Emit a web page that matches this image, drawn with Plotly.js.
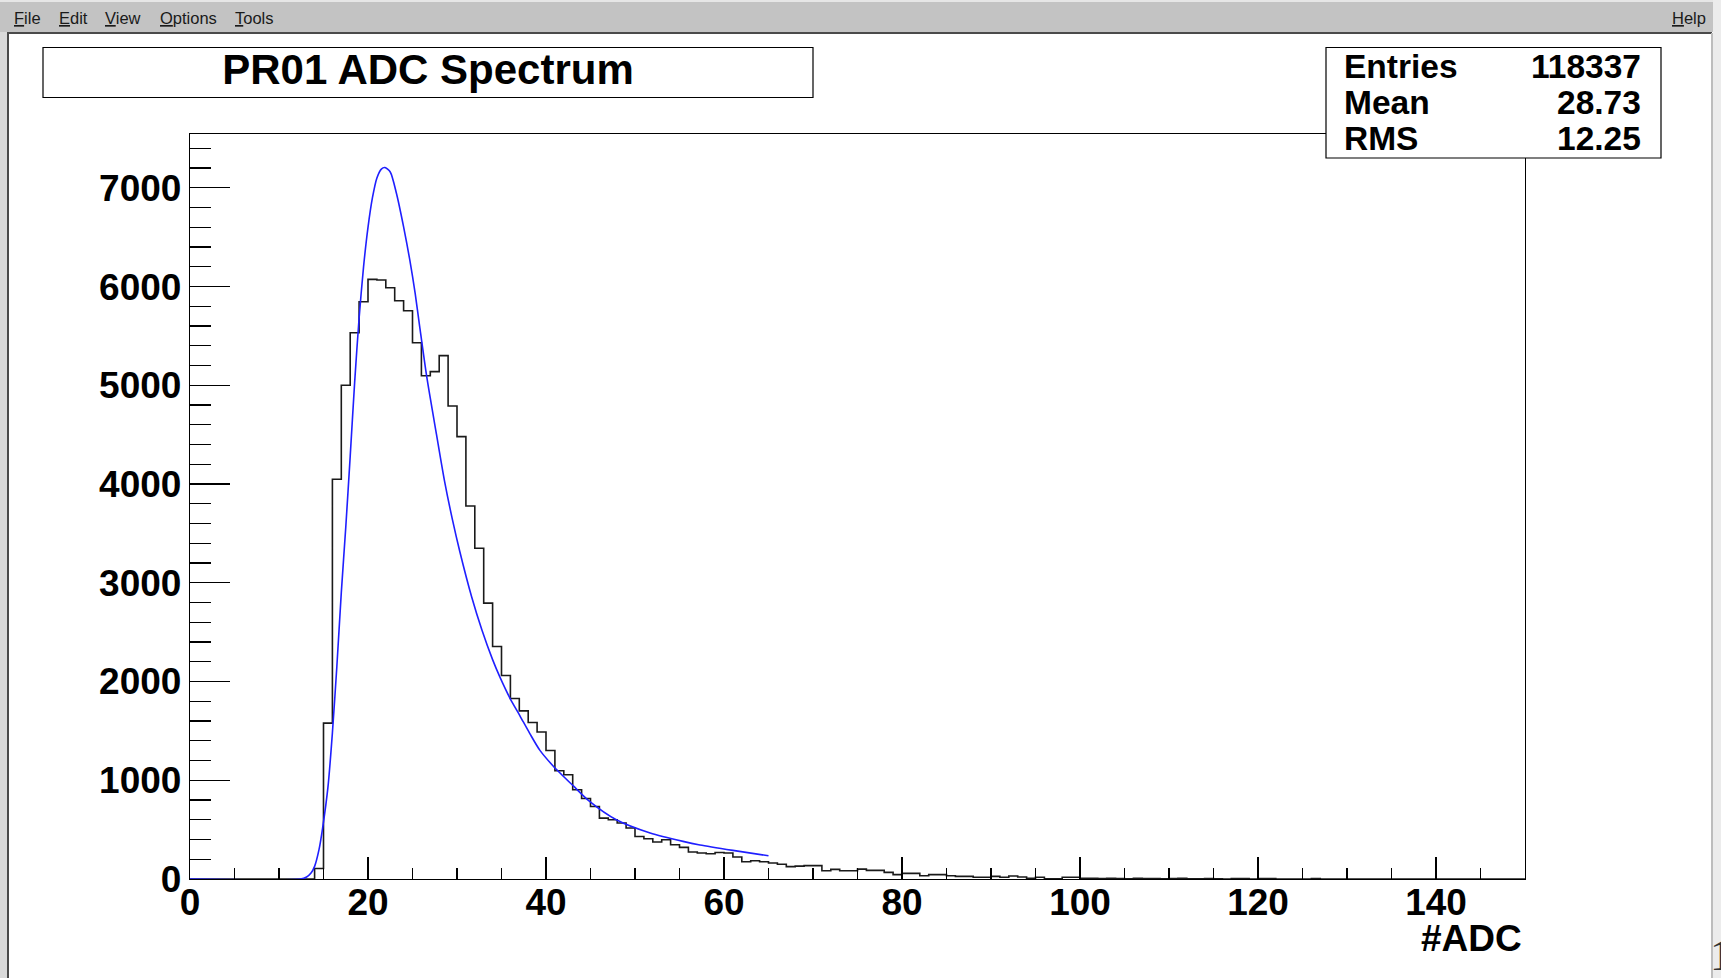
<!DOCTYPE html>
<html>
<head>
<meta charset="utf-8">
<script src="https://cdn.plot.ly/plotly-3.0.1.min.js"></script>
<style>
html,body{margin:0;padding:0;background:#ffffff;overflow:hidden;}
#chart{width:1721px;height:978px;}
</style>
</head>
<body>
<div id="chart"></div>
<script>
// ---------------- data ----------------
const chartTitle = "PR01 ADC Spectrum";
const xAxisTitle = "#ADC";
const statLabels = ["Entries", "Mean", "RMS"];
const statValues = ["118337", "28.73", "12.25"];
const menuItems = ["File", "Edit", "View", "Options", "Tools"];
const helpItem = "Help";

// histogram: 150 bins of width 1 from 0 to 150 (value of bin i covers [i, i+1])
const binWidth = 1;
const adcCounts = [
  0,0,0,0,0,0,0,0,0,0,            // 0-9
  0,0,0,0,107,1579,4049,5000,5532,5846, // 10-19
  6073,6066,5988,5856,5755,5431,5097,5138,5300,4790, // 20-29
  4480,3778,3350,2794,2354,2061,1828,1703,1585,1488, // 30-39
  1302,1096,1056,904,816,735,617,600,567,516,        // 40-49
  431,408,374,398,347,320,273,263,256,269,           // 50-59
  263,223,175,185,175,162,150,125,130,135,           // 60-69
  135,84,97,84,84,100,87,87,67,44,                   // 70-79
  57,57,33,44,44,33,27,27,17,17,                     // 80-89
  27,17,30,20,6,17,3,3,17,17,                        // 90-99
  8,6,4,7,5,3,6,4,5,3,                               // 100-109
  4,6,3,2,4,3,0,5,5,0,                               // 110-119
  5,5,0,0,0,0,5,0,0,0,                               // 120-129
  0,0,0,0,0,0,0,0,0,0,                               // 130-139
  0,0,0,0,0,0,0,0,0,0                                // 140-149
];

// fitted curve (blue)
const fitX = [0, 12.4, 13.1, 13.6, 14.0, 14.5, 14.9, 15.5, 16.0, 16.5, 17.0, 17.5, 18.0, 18.5, 19.0, 19.5, 20.0, 20.5, 21.0, 21.5, 21.9, 22.5, 23.2, 24.0, 24.7, 25.3, 25.8, 26.6, 27.7, 28.6, 29.5, 30.3, 31.65, 32.8, 34.0, 34.8, 35.96, 37.1, 38.2, 39.3, 40.8, 43.1, 44.9, 47.9, 51.7, 55.4, 57.3, 61, 65];
const fitY = [0, 0, 20, 60, 128, 300, 516, 930, 1480, 2152, 2900, 3560, 4280, 5030, 5680, 6200, 6600, 6900, 7100, 7190, 7205, 7160, 6943, 6605, 6268, 5931, 5600, 5087, 4500, 4030, 3634, 3322, 2856, 2522, 2222, 2050, 1830, 1648, 1470, 1305, 1145, 940, 786, 600, 466, 381, 345, 290, 235];

const xRange = [0, 150];
const yRange = [0, 7545];

// ---------------- layout helpers (pixel -> paper) ----------------
const W = 1721, H = 978;
const L = 190, R = 1525, T = 134, B = 879;
const PX = x => (x - L) / (R - L);
const PY = y => (B - y) / (B - T);

// histogram outline as step line
const edges = [];
const stepY = [];
for (let i = 0; i < adcCounts.length; i++) { edges.push(xRange[0] + i * binWidth); stepY.push(adcCounts[i]); }
edges.push(xRange[0] + adcCounts.length * binWidth);
stepY.push(adcCounts[adcCounts.length - 1]);

const traces = [
  {
    x: edges, y: stepY, type: 'scatter', mode: 'lines',
    line: {shape: 'hv', color: '#1a1a1a', width: 1.6},
    hoverinfo: 'skip', showlegend: false, cliponaxis: true
  },
  {
    x: fitX, y: fitY, type: 'scatter', mode: 'lines',
    line: {shape: 'spline', smoothing: 0.7, color: '#1f1fff', width: 1.6},
    hoverinfo: 'skip', showlegend: false
  }
];

const FONT = 'Liberation Sans, Arial, Helvetica, sans-serif';
const shapes = [];
const annotations = [];

// window chrome
shapes.push({type:'rect', xref:'paper', yref:'paper', x0:PX(0), x1:PX(W), y0:PY(0), y1:PY(32), fillcolor:'#c3c3c3', line:{width:0}, layer:'above'});
shapes.push({type:'rect', xref:'paper', yref:'paper', x0:PX(0), x1:PX(W), y0:PY(0), y1:PY(2), fillcolor:'#e6e6e6', line:{width:0}, layer:'above'});
shapes.push({type:'rect', xref:'paper', yref:'paper', x0:PX(0), x1:PX(7), y0:PY(32), y1:PY(H), fillcolor:'#d9d9d9', line:{width:0}, layer:'above'});
shapes.push({type:'rect', xref:'paper', yref:'paper', x0:PX(1713), x1:PX(W), y0:PY(0), y1:PY(H), fillcolor:'#ececec', line:{width:0}, layer:'above'});
shapes.push({type:'line', xref:'paper', yref:'paper', x0:PX(7), x1:PX(1712), y0:PY(33), y1:PY(33), line:{color:'#4a4a4a', width:2}, layer:'above'});
shapes.push({type:'line', xref:'paper', yref:'paper', x0:PX(8), x1:PX(8), y0:PY(32), y1:PY(H), line:{color:'#4a4a4a', width:2}, layer:'above'});
shapes.push({type:'line', xref:'paper', yref:'paper', x0:PX(1712), x1:PX(1712), y0:PY(33), y1:PY(H), line:{color:'#bdbdbd', width:2}, layer:'above'});

// title box
shapes.push({type:'rect', xref:'paper', yref:'paper', x0:PX(43), x1:PX(813), y0:PY(47.5), y1:PY(97.5), fillcolor:'rgba(255,255,255,0)', line:{color:'#000', width:1.2}, layer:'above'});
// stats box
shapes.push({type:'rect', xref:'paper', yref:'paper', x0:PX(1326), x1:PX(1661), y0:PY(47.5), y1:PY(158), fillcolor:'#ffffff', line:{color:'#000', width:1.2}, layer:'above'});

// menu texts
const menuX = [12, 57, 103, 158, 233];
menuItems.forEach((m, i) => {
  annotations.push({xref:'paper', yref:'paper', x:PX(menuX[i]), y:PY(17.5), xanchor:'left', yanchor:'middle',
    text:'<u>' + m.charAt(0) + '</u>' + m.slice(1), showarrow:false, font:{family:FONT, size:16.5, color:'#1a1a1a'}});
});
annotations.push({xref:'paper', yref:'paper', x:PX(1708), y:PY(17.5), xanchor:'right', yanchor:'middle',
  text:'<u>' + helpItem.charAt(0) + '</u>' + helpItem.slice(1), showarrow:false, font:{family:FONT, size:16.5, color:'#1a1a1a'}});

// stats text
const statY = [66, 102.5, 138.5];
statLabels.forEach((s, i) => {
  annotations.push({xref:'paper', yref:'paper', x:PX(1342), y:PY(statY[i]), xanchor:'left', yanchor:'middle',
    text:s, showarrow:false, font:{family:FONT, size:33.5, color:'#000', weight:'bold'}});
  annotations.push({xref:'paper', yref:'paper', x:PX(1643), y:PY(statY[i]), xanchor:'right', yanchor:'middle',
    text:statValues[i], showarrow:false, font:{family:FONT, size:33.5, color:'#000', weight:'bold'}});
});

// x axis title (right aligned like ROOT)
annotations.push({xref:'paper', yref:'paper', x:PX(1524), y:PY(939), xanchor:'right', yanchor:'middle',
  text:xAxisTitle, showarrow:false, font:{family:FONT, size:37, color:'#000', weight:'bold'}});

// clipped glyph at right window edge
annotations.push({xref:'paper', yref:'paper', x:PX(1708), y:PY(956), xanchor:'left', yanchor:'middle',
  text:'1', showarrow:false, font:{family:'Liberation Serif, DejaVu Serif, serif', size:44, color:'#333'}});

const layout = {
  width: W, height: H,
  margin: {l: L, r: W - R, t: T, b: H - B, pad: 0},
  paper_bgcolor: '#ffffff', plot_bgcolor: '#ffffff',
  showlegend: false,
  title: {text: chartTitle, xref:'container', yref:'container', x: 428 / W, xanchor:'center', y: 1 - 69 / H, yanchor:'middle',
    font: {family: FONT, size: 42, color:'#000', weight:'bold'}},
  xaxis: {
    range: xRange, autorange:false, showgrid:false, zeroline:false,
    showline:true, mirror:true, linecolor:'#000', linewidth:1.2,
    ticks:'inside', ticklen:22, tickwidth:1.2, tickcolor:'#000', dtick:20, tick0:0,
    minor:{dtick:5, tick0:0, ticks:'inside', ticklen:11, tickwidth:1.2, tickcolor:'#000', showgrid:false},
    tickfont:{family:FONT, size:37, color:'#000', weight:'bold'},
    ticklabelstandoff:-10
  },
  yaxis: {
    range: yRange, autorange:false, showgrid:false, zeroline:false,
    showline:true, mirror:true, linecolor:'#000', linewidth:1.2,
    ticks:'inside', ticklen:40, tickwidth:1.2, tickcolor:'#000', dtick:1000, tick0:0,
    minor:{dtick:200, tick0:0, ticks:'inside', ticklen:21, tickwidth:1.2, tickcolor:'#000', showgrid:false},
    tickfont:{family:FONT, size:37, color:'#000', weight:'bold'},
    tickformat:'d'
  },
  shapes: shapes,
  annotations: annotations
};

Plotly.newPlot('chart', traces, layout, {staticPlot:true, displayModeBar:false});
</script>
</body>
</html>
